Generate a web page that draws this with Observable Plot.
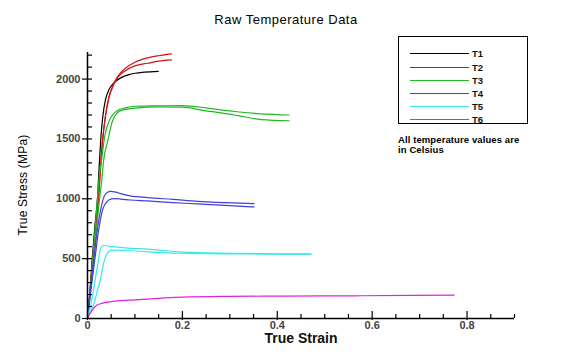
<!DOCTYPE html>
<html><head><meta charset="utf-8">
<script src="https://cdn.jsdelivr.net/npm/d3@7"></script>
<script src="https://cdn.jsdelivr.net/npm/@observablehq/plot@0.6"></script>
<style>
body{margin:0;background:#fff;font-family:"Liberation Sans",Arial,sans-serif;}
#wrap{position:relative;width:572px;height:358px;overflow:hidden;background:#fff;}
#wrap svg{position:absolute;left:0;top:0;}
.lbl{position:absolute;white-space:nowrap;line-height:1;}
</style></head><body><div id="wrap"></div>
<script>
const titleText = "Raw Temperature Data";
const xLabel = "True Strain";
const yLabel = "True Stress (MPa)";
const noteLines = ["All temperature values are", "in Celsius"];
const seriesNames = ["T1","T2","T3","T4","T5","T6"];
const seriesColors = ["#000000","#cc1414","#22b822","#4040d8","#38e8e8","#e020e0"];
const xTickLabels = [0, 0.2, 0.4, 0.6, 0.8];
const yTickLabels = [0, 500, 1000, 1500, 2000];

const T1 = [[0,0],[0.005,220],[0.01,500],[0.015,750],[0.021,1000],[0.025,1300],[0.028,1500],[0.032,1680],[0.038,1830],[0.045,1910],[0.056,1970],[0.07,2010],[0.09,2040],[0.12,2058],[0.149,2065]];
const T2a = [[0,0],[0.005,200],[0.01,450],[0.016,720],[0.023,1000],[0.028,1300],[0.032,1500],[0.038,1700],[0.045,1850],[0.055,1960],[0.065,2030],[0.08,2090],[0.1,2140],[0.127,2177],[0.15,2195],[0.177,2210]];
const T2b = [[0,0],[0.005,195],[0.01,440],[0.016,710],[0.023,990],[0.028,1290],[0.032,1490],[0.038,1690],[0.045,1840],[0.055,1950],[0.065,2020],[0.08,2070],[0.1,2110],[0.127,2132],[0.15,2150],[0.177,2160]];
const T3a = [[0,0],[0.005,200],[0.01,430],[0.015,700],[0.02,950],[0.025,1200],[0.03,1330],[0.035,1490],[0.046,1654],[0.063,1737],[0.08,1760],[0.1,1773],[0.15,1777],[0.2,1779],[0.25,1760],[0.28,1743],[0.32,1725],[0.366,1710],[0.425,1700]];
const T3b = [[0,0],[0.006,200],[0.012,430],[0.018,700],[0.024,950],[0.03,1150],[0.034,1321],[0.043,1487],[0.053,1654],[0.07,1737],[0.1,1757],[0.15,1768],[0.2,1765],[0.25,1735],[0.281,1718],[0.32,1693],[0.366,1662],[0.425,1652]];
const T4a = [[0,0],[0.004,180],[0.01,380],[0.015,560],[0.02,720],[0.025,850],[0.03,950],[0.035,1020],[0.042,1055],[0.049,1062],[0.06,1055],[0.07,1043],[0.09,1025],[0.127,1010],[0.18,995],[0.232,979],[0.29,968],[0.351,960]];
const T4b = [[0,0],[0.005,170],[0.011,360],[0.017,540],[0.022,700],[0.027,820],[0.032,910],[0.038,960],[0.045,990],[0.056,1001],[0.07,998],[0.09,990],[0.127,982],[0.18,968],[0.232,957],[0.29,945],[0.351,932]];
const T5a = [[0,0],[0.003,60],[0.007,112],[0.012,220],[0.016,321],[0.022,462],[0.026,560],[0.03,600],[0.035,610],[0.05,602],[0.08,590],[0.127,579],[0.2,555],[0.3,545],[0.4,540],[0.471,538]];
const T5b = [[0,0],[0.006,60],[0.0126,112],[0.02,220],[0.027,321],[0.034,462],[0.04,535],[0.045,562],[0.051,571],[0.08,568],[0.127,557],[0.2,545],[0.3,540],[0.4,538],[0.471,537]];
const T6a = [[0,0],[0.003,25],[0.0055,43],[0.01,70],[0.02,112],[0.03,126],[0.04,135],[0.062,148],[0.1,156],[0.125,162],[0.15,168],[0.2,179],[0.3,185],[0.408,187],[0.5,189],[0.577,190],[0.68,193],[0.773,196]];

const curves = [["T1",T1],["T2",T2a],["T2",T2b],["T3",T3a],["T3",T3b],["T4",T4a],["T4",T4b],["T5",T5a],["T5",T5b],["T6",T6a]];
const rows = curves.flatMap(([s, pts], i) => pts.map(([x, y]) => ({series: s, curve: i, x, y})));

const xMinor = d3.range(1, 19).map(i => +(i * 0.05).toFixed(2)).filter(v => !xTickLabels.includes(v));
const yMinor = d3.range(1, 23).map(i => i * 100).filter(v => !yTickLabels.includes(v));

const W = 572, H = 358, mL = 87, mR = 58, mT = 52, mB = 40;
const frameH = H - mT - mB, frameW = W - mL - mR;

const chart = Plot.plot({
  width: W, height: H,
  marginLeft: mL, marginRight: mR, marginTop: mT, marginBottom: mB,
  style: {fontFamily: "'Liberation Sans', Arial, sans-serif", background: "transparent", overflow: "visible"},
  x: {domain: [0, 0.9]},
  y: {domain: [0, 2222]},
  color: {domain: seriesNames, range: seriesColors},
  marks: [
    Plot.line(rows, {x: "x", y: "y", z: "curve", stroke: "series", strokeWidth: 1.2, curve: "monotone-x"}),
    Plot.ruleX([0], {stroke: "#000", strokeWidth: 1.5}),
    Plot.ruleY([0], {stroke: "#000", strokeWidth: 1.5}),
    Plot.tickX(xMinor, {x: d => d, stroke: "#000", strokeWidth: 1.2, insetTop: frameH - 4}),
    Plot.tickX(xTickLabels, {x: d => d, stroke: "#000", strokeWidth: 1.2, insetTop: frameH - 7, insetBottom: -2}),
    Plot.tickY(yMinor, {y: d => d, stroke: "#000", strokeWidth: 1.2, insetRight: frameW - 5}),
    Plot.tickY(yTickLabels, {y: d => d, stroke: "#000", strokeWidth: 1.2, insetRight: frameW - 5, insetLeft: -5}),
    Plot.axisX({ticks: xTickLabels, tickSize: 0, tickPadding: 3, tickFormat: d => String(d), label: null, fontSize: 11, fill: "#444", fontWeight: "bold", style: {letterSpacing: "1.2px"}}),
    Plot.axisY({ticks: yTickLabels, tickSize: 0, tickPadding: 7, tickFormat: d => String(d), label: null, fontSize: 11, fill: "#444", fontWeight: "bold", style: {letterSpacing: "1px"}})
  ]
});

const wrap = document.getElementById("wrap");
wrap.appendChild(chart);

function addText(txt, css) {
  const d = document.createElement("div");
  d.className = "lbl";
  d.textContent = txt;
  Object.assign(d.style, css);
  wrap.appendChild(d);
  return d;
}
addText(titleText, {left: "286px", top: "19px", transform: "translate(-50%,-50%)", fontSize: "13px", letterSpacing: "0.5px", color: "#000"});
addText(xLabel, {left: "301px", top: "339px", transform: "translate(-50%,-50%)", fontSize: "14px", fontWeight: "bold", color: "#111", lineHeight: "0.85"});
addText(yLabel, {left: "23px", top: "185px", transform: "translate(-50%,-50%) rotate(-90deg)", fontSize: "12px", letterSpacing: "0.2px", color: "#000"});

// legend
const box = document.createElement("div");
Object.assign(box.style, {position: "absolute", left: "398px", top: "36px", width: "130px", height: "88px", border: "1px solid #000", boxSizing: "border-box"});
wrap.appendChild(box);
seriesNames.forEach((s, i) => {
  const cy = 54.3 + i * 13.2;
  const ln = document.createElement("div");
  Object.assign(ln.style, {position: "absolute", left: "410px", top: (cy - 1) + "px", width: "59px", height: "0", borderTop: "1.3px solid " + seriesColors[i]});
  wrap.appendChild(ln);
  addText(s, {left: "472px", top: cy + "px", transform: "translateY(-50%)", fontSize: "9.5px", fontWeight: "bold", color: "#111"});
});
noteLines.forEach((t, i) => {
  addText(t, {left: "398px", top: (140 + i * 9.5) + "px", transform: "translateY(-50%)", fontSize: "9.5px", fontWeight: "bold", color: "#000", letterSpacing: "0.1px"});
});
</script></body></html>
